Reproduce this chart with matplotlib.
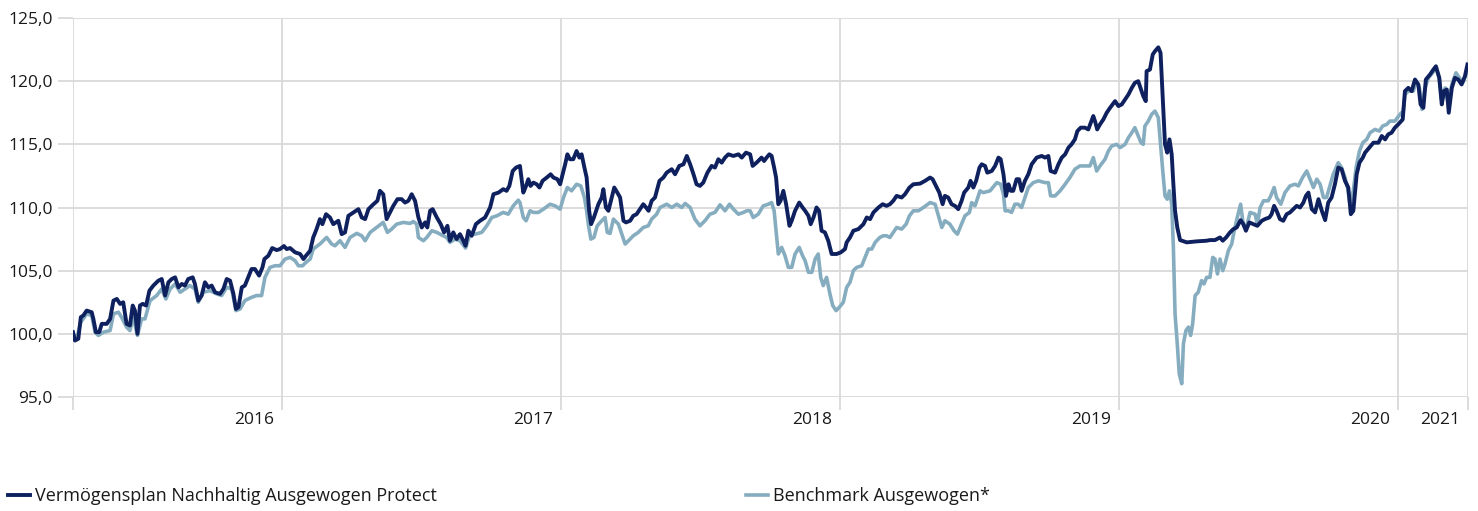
import matplotlib
matplotlib.use("Agg")
import matplotlib.pyplot as plt
from matplotlib.ticker import FixedLocator, FuncFormatter

plt.rcParams['font.family'] = ['Open Sans', 'DejaVu Sans']

# ---- data (decimal years, index values) ----
fund_t = [
    2016.250, 2016.257, 2016.269, 2016.278, 2016.287, 2016.299, 2016.317, 2016.323, 2016.332, 2016.344,
    2016.353, 2016.371, 2016.383, 2016.395, 2016.407, 2016.419, 2016.430, 2016.442, 2016.454, 2016.464,
    2016.472, 2016.481, 2016.490, 2016.500, 2016.512, 2016.524, 2016.538, 2016.556, 2016.568, 2016.580,
    2016.592, 2016.604, 2016.616, 2016.628, 2016.640, 2016.651, 2016.663, 2016.679, 2016.687, 2016.699,
    2016.711, 2016.723, 2016.735, 2016.747, 2016.759, 2016.777, 2016.789, 2016.801, 2016.813, 2016.825,
    2016.834, 2016.843, 2016.855, 2016.866, 2016.878, 2016.890, 2016.902, 2016.917, 2016.929, 2016.936,
    2016.950, 2016.964, 2016.980, 2016.992, 2017.006, 2017.016,
    2017.028, 2017.046, 2017.064, 2017.076, 2017.085, 2017.100, 2017.111, 2017.123, 2017.135, 2017.144,
    2017.157, 2017.171, 2017.183, 2017.201, 2017.213, 2017.225, 2017.237, 2017.255, 2017.273, 2017.285,
    2017.297, 2017.309, 2017.327, 2017.341, 2017.350, 2017.362, 2017.374, 2017.386, 2017.398, 2017.413,
    2017.428, 2017.440, 2017.452, 2017.464, 2017.476, 2017.488, 2017.500, 2017.512, 2017.520, 2017.530,
    2017.539, 2017.554, 2017.568, 2017.580, 2017.592, 2017.601, 2017.613, 2017.625, 2017.637, 2017.649,
    2017.657, 2017.667, 2017.679, 2017.694, 2017.709, 2017.727, 2017.745, 2017.757, 2017.775, 2017.792,
    2017.804, 2017.814, 2017.826, 2017.838, 2017.852,
    2017.864, 2017.874, 2017.882, 2017.890, 2017.900, 2017.912, 2017.922, 2017.933, 2017.948, 2017.962,
    2017.972, 2017.986, 2017.996, 2018.005, 2018.014, 2018.022, 2018.031, 2018.043, 2018.055, 2018.065,
    2018.073, 2018.083, 2018.091, 2018.100, 2018.107, 2018.117, 2018.133, 2018.145, 2018.151, 2018.160,
    2018.169, 2018.181, 2018.190, 2018.201, 2018.211, 2018.223, 2018.232, 2018.247, 2018.258, 2018.270,
    2018.282, 2018.294, 2018.304, 2018.313, 2018.324, 2018.336, 2018.352, 2018.366, 2018.378, 2018.396,
    2018.408, 2018.423, 2018.438, 2018.450, 2018.462, 2018.474, 2018.485, 2018.497, 2018.509, 2018.524,
    2018.539, 2018.551, 2018.563, 2018.575, 2018.587, 2018.599, 2018.617, 2018.635, 2018.647, 2018.662,
    2018.677, 2018.686, 2018.700, 2018.718, 2018.727, 2018.736, 2018.746, 2018.754, 2018.763, 2018.770,
    2018.778, 2018.786, 2018.796, 2018.806, 2018.818, 2018.826, 2018.838, 2018.853, 2018.865, 2018.874,
    2018.886, 2018.894, 2018.904, 2018.915, 2018.924, 2018.933, 2018.945, 2018.957, 2018.969, 2018.987,
    2019.002, 2019.017, 2019.023, 2019.035, 2019.047, 2019.065, 2019.083, 2019.095, 2019.107, 2019.119,
    2019.137, 2019.152, 2019.166, 2019.178, 2019.190, 2019.202, 2019.220, 2019.232, 2019.248, 2019.262,
    2019.286, 2019.304, 2019.322, 2019.331, 2019.343, 2019.355, 2019.367, 2019.375, 2019.387, 2019.399,
    2019.411, 2019.423, 2019.435, 2019.444, 2019.459, 2019.467, 2019.477, 2019.487, 2019.499,
    2019.507, 2019.519, 2019.527, 2019.543, 2019.555, 2019.567, 2019.575, 2019.585, 2019.594, 2019.603,
    2019.611, 2019.620, 2019.632, 2019.641, 2019.650, 2019.662, 2019.674, 2019.686, 2019.704, 2019.722,
    2019.734, 2019.746, 2019.754, 2019.770, 2019.782, 2019.794, 2019.806, 2019.818, 2019.829, 2019.841,
    2019.850, 2019.862, 2019.877, 2019.889, 2019.898, 2019.907, 2019.913, 2019.921, 2019.931, 2019.943,
    2019.955, 2019.967, 2019.985, 2019.997, 2020.009, 2020.021, 2020.033, 2020.045, 2020.056, 2020.068,
    2020.078, 2020.086, 2020.095, 2020.098, 2020.110, 2020.120, 2020.128, 2020.140, 2020.148, 2020.156,
    2020.164, 2020.172, 2020.180, 2020.188, 2020.194, 2020.200, 2020.208, 2020.218, 2020.242, 2020.278,
    2020.313,
    2020.325, 2020.343, 2020.361, 2020.371, 2020.383, 2020.397, 2020.409, 2020.421, 2020.435, 2020.445,
    2020.454, 2020.466, 2020.481, 2020.495, 2020.511, 2020.522, 2020.538, 2020.546, 2020.555, 2020.564,
    2020.576, 2020.588, 2020.600, 2020.612, 2020.624, 2020.636, 2020.648, 2020.660, 2020.669, 2020.678,
    2020.690, 2020.702, 2020.714, 2020.726, 2020.738, 2020.749, 2020.761, 2020.773, 2020.785, 2020.797,
    2020.809, 2020.821, 2020.830, 2020.839, 2020.851, 2020.861, 2020.873, 2020.881, 2020.896, 2020.911,
    2020.929, 2020.941, 2020.953, 2020.964, 2020.976, 2020.988, 2021.000, 2021.016, 2021.024, 2021.036,
    2021.048, 2021.060, 2021.072, 2021.080, 2021.090, 2021.099, 2021.114, 2021.126, 2021.135, 2021.147,
    2021.156, 2021.164, 2021.174, 2021.181, 2021.192, 2021.203, 2021.215, 2021.227, 2021.239, 2021.248,
]
fund_v = [
    100.13, 99.47, 99.61, 101.32, 101.45, 101.84, 101.71, 101.18, 100.13, 100.13,
    100.79, 100.79, 101.18, 102.63, 102.76, 102.37, 102.50, 100.79, 100.66, 102.24,
    101.84, 100.00, 102.24, 102.37, 102.24, 103.42, 103.82, 104.21, 104.34, 103.03,
    104.08, 104.34, 104.47, 103.68, 103.95, 103.82, 104.34, 104.47, 103.95, 102.63,
    103.03, 104.08, 103.68, 103.82, 103.29, 103.16, 103.55, 104.34, 104.21, 103.16,
    101.97, 102.11, 103.68, 103.82, 104.47, 105.13, 105.13, 104.61, 105.26, 105.92,
    106.18, 106.79, 106.63, 106.71, 106.95, 106.71,
    106.79, 106.45, 106.32, 105.92, 106.18, 106.58, 107.63, 108.29, 109.08, 108.68,
    109.47, 109.21, 108.68, 108.95, 107.89, 108.03, 109.34, 109.61, 109.87, 109.21,
    109.08, 109.87, 110.26, 110.53, 111.32, 111.05, 109.08, 109.61, 110.13, 110.66,
    110.66, 110.39, 110.53, 111.05, 110.53, 109.21, 108.42, 108.82, 108.42, 109.74,
    109.87, 109.21, 108.68, 108.03, 108.55, 107.37, 108.03, 107.50, 107.89, 107.37,
    106.97, 108.16, 107.76, 108.68, 108.95, 109.21, 110.00, 111.05, 111.18, 111.45,
    111.32, 111.71, 112.89, 113.16, 113.29,
    111.18, 111.71, 112.24, 111.71, 111.97, 111.84, 111.58, 112.11, 112.37, 112.63,
    112.37, 112.24, 111.84, 112.63, 113.42, 114.21, 113.82, 113.82, 114.47, 113.95,
    114.21, 113.16, 112.37, 109.74, 108.68, 109.21, 110.26, 110.79, 111.45, 110.00,
    109.74, 110.79, 111.58, 111.18, 110.79, 108.95, 108.82, 108.95, 109.34, 109.47,
    109.87, 110.26, 110.00, 109.74, 110.53, 110.79, 112.11, 112.37, 112.76, 113.03,
    112.63, 113.29, 113.42, 114.08, 113.42, 112.63, 111.84, 111.71, 111.97, 112.76,
    113.29, 113.16, 113.82, 113.55, 113.95, 114.21, 114.08, 114.21, 113.95, 114.34,
    114.21, 113.29, 113.55, 113.95, 113.68, 113.95, 114.21, 114.08, 113.16, 112.37,
    110.26, 110.53, 111.32, 110.26, 108.55, 108.95, 109.74, 110.39, 110.00, 109.74,
    109.34, 108.68, 109.21, 110.00, 109.74, 108.16, 108.03, 107.37, 106.32, 106.32,
    106.45, 106.71, 107.24, 107.63, 108.16, 108.29, 108.68, 109.21, 109.08, 109.61,
    110.00, 110.26, 110.13, 110.26, 110.53, 110.92, 110.79, 111.05, 111.58, 111.84,
    111.89, 112.11, 112.37, 112.24, 111.71, 111.18, 110.26, 110.92, 110.79, 110.26,
    110.13, 109.87, 110.53, 111.18, 111.58, 112.11, 111.58, 112.11, 113.16,
    113.42, 113.29, 112.76, 112.89, 113.29, 113.95, 113.82, 112.63, 110.92, 111.84,
    111.32, 111.32, 112.24, 112.24, 111.32, 112.11, 112.63, 113.42, 113.95, 114.08,
    113.95, 114.08, 112.89, 112.76, 113.42, 113.95, 114.21, 114.74, 115.00, 115.39,
    116.05, 116.32, 116.32, 116.18, 116.71, 117.24, 116.84, 116.18, 116.58, 116.97,
    117.50, 117.89, 118.42, 118.03, 118.16, 118.55, 118.95, 119.47, 119.87, 120.00,
    119.34, 118.82, 118.42, 120.79, 120.92, 122.11, 122.37, 122.68, 122.24, 118.68,
    115.00, 114.34, 115.39, 114.21, 111.84, 109.74, 108.42, 107.42, 107.24, 107.32,
    107.37,
    107.42, 107.42, 107.63, 107.37, 107.63, 108.03, 108.29, 108.42, 109.00, 108.68,
    108.16, 108.82, 108.68, 108.55, 108.95, 109.08, 109.21, 109.47, 110.13, 109.74,
    109.08, 108.95, 109.47, 109.61, 109.87, 110.13, 110.00, 110.39, 110.92, 111.18,
    109.87, 109.61, 110.66, 109.74, 109.00, 110.39, 110.79, 111.84, 113.16, 113.03,
    112.11, 111.58, 109.47, 109.74, 112.63, 113.55, 113.95, 114.34, 114.74, 115.13,
    115.13, 115.66, 115.39, 115.79, 115.92, 116.32, 116.58, 116.97, 119.21, 119.47,
    119.21, 120.13, 119.74, 118.16, 117.89, 120.13, 120.53, 120.92, 121.18, 120.26,
    118.16, 119.21, 119.34, 117.50, 119.47, 120.26, 120.13, 119.74, 120.39, 121.32,
]

bench_t = [
    2016.250, 2016.263, 2016.278, 2016.299, 2016.317, 2016.329, 2016.341, 2016.359, 2016.383, 2016.395,
    2016.413, 2016.424, 2016.442, 2016.454, 2016.466, 2016.481, 2016.496, 2016.508, 2016.526, 2016.550,
    2016.568, 2016.583, 2016.598, 2016.616, 2016.634, 2016.651, 2016.669, 2016.687, 2016.699, 2016.717,
    2016.741, 2016.765, 2016.783, 2016.801, 2016.819, 2016.834, 2016.849, 2016.866, 2016.890, 2016.908,
    2016.926, 2016.938, 2016.956, 2016.974, 2016.992, 2017.010,
    2017.028, 2017.046, 2017.058, 2017.073, 2017.085, 2017.100, 2017.111, 2017.135, 2017.159, 2017.177,
    2017.189, 2017.207, 2017.225, 2017.243, 2017.267, 2017.285, 2017.297, 2017.315, 2017.338, 2017.362,
    2017.377, 2017.392, 2017.410, 2017.434, 2017.458, 2017.470, 2017.482, 2017.488, 2017.506, 2017.518,
    2017.536, 2017.554, 2017.577, 2017.589, 2017.601, 2017.619, 2017.637, 2017.657, 2017.673, 2017.691,
    2017.715, 2017.733, 2017.751, 2017.769, 2017.792, 2017.810, 2017.828, 2017.846,
    2017.852, 2017.864, 2017.874, 2017.888, 2017.900, 2017.918, 2017.936, 2017.960, 2017.978, 2017.996,
    2018.008, 2018.022, 2018.037, 2018.055, 2018.070, 2018.083, 2018.091, 2018.097, 2018.106, 2018.117,
    2018.129, 2018.145, 2018.157, 2018.165, 2018.175, 2018.187, 2018.205, 2018.217, 2018.229, 2018.241,
    2018.258, 2018.276, 2018.294, 2018.312, 2018.324, 2018.342, 2018.354, 2018.378, 2018.396, 2018.414,
    2018.432, 2018.444, 2018.462, 2018.479, 2018.497, 2018.515, 2018.533, 2018.551, 2018.569, 2018.587,
    2018.603, 2018.617, 2018.635, 2018.653, 2018.665,
    2018.677, 2018.688, 2018.706, 2018.724, 2018.742, 2018.754, 2018.763, 2018.770, 2018.778, 2018.790,
    2018.802, 2018.814, 2018.826, 2018.838, 2018.853, 2018.865, 2018.874, 2018.886, 2018.898, 2018.910,
    2018.921, 2018.930, 2018.939, 2018.951, 2018.963, 2018.973, 2018.985, 2018.997, 2019.011, 2019.023,
    2019.035, 2019.047, 2019.059, 2019.077, 2019.089, 2019.101, 2019.113, 2019.125, 2019.142, 2019.154,
    2019.166, 2019.178, 2019.190, 2019.202, 2019.220, 2019.236, 2019.248, 2019.262, 2019.280, 2019.298,
    2019.322, 2019.340, 2019.352, 2019.364, 2019.375, 2019.393, 2019.408, 2019.420, 2019.432, 2019.447,
    2019.463, 2019.471, 2019.483, 2019.499,
    2019.501, 2019.513, 2019.537, 2019.561, 2019.575, 2019.585, 2019.591, 2019.603, 2019.614, 2019.626,
    2019.638, 2019.650, 2019.662, 2019.674, 2019.692, 2019.710, 2019.734, 2019.746, 2019.754, 2019.770,
    2019.788, 2019.806, 2019.823, 2019.841, 2019.859, 2019.883, 2019.895, 2019.907, 2019.919, 2019.931,
    2019.949, 2019.961, 2019.973, 2019.991, 2020.003, 2020.021, 2020.033, 2020.045, 2020.056, 2020.068,
    2020.078, 2020.086, 2020.092, 2020.104, 2020.116, 2020.128, 2020.140, 2020.148, 2020.156, 2020.164,
    2020.172, 2020.180, 2020.188, 2020.194, 2020.200, 2020.208, 2020.215, 2020.224, 2020.230, 2020.239,
    2020.248, 2020.256, 2020.263, 2020.272, 2020.283, 2020.295, 2020.304, 2020.313,
    2020.325, 2020.335, 2020.343, 2020.352, 2020.361, 2020.371, 2020.379, 2020.391, 2020.403, 2020.411,
    2020.423, 2020.435, 2020.445, 2020.457, 2020.469, 2020.487, 2020.495, 2020.505, 2020.517, 2020.534,
    2020.543, 2020.555, 2020.564, 2020.579, 2020.594, 2020.612, 2020.630, 2020.642, 2020.657, 2020.672,
    2020.684, 2020.696, 2020.708, 2020.720, 2020.732, 2020.743, 2020.755, 2020.767, 2020.785, 2020.797,
    2020.809, 2020.818, 2020.827, 2020.839, 2020.849, 2020.861, 2020.873, 2020.887, 2020.899, 2020.917,
    2020.932, 2020.944, 2020.959, 2020.970, 2020.988, 2021.006, 2021.018, 2021.024, 2021.036, 2021.054,
    2021.064, 2021.076, 2021.085, 2021.096, 2021.108, 2021.123, 2021.135, 2021.147, 2021.156, 2021.168,
    2021.180, 2021.192, 2021.207, 2021.219, 2021.231, 2021.243, 2021.248,
]
bench_v = [
    100.00, 99.61, 100.92, 101.58, 101.45, 100.13, 99.87, 100.13, 100.26, 101.58,
    101.71, 101.32, 100.53, 100.26, 101.32, 99.87, 101.18, 101.18, 102.63, 103.03,
    103.55, 102.76, 103.55, 103.95, 103.29, 103.55, 103.82, 103.55, 102.50, 103.29,
    103.42, 103.16, 103.03, 103.68, 103.55, 101.84, 101.97, 102.63, 102.89, 103.03,
    103.03, 104.47, 105.26, 105.39, 105.39, 105.92,
    106.05, 105.79, 105.39, 105.39, 105.66, 105.92, 106.71, 107.11, 107.63, 107.11,
    106.97, 107.37, 106.84, 107.63, 107.95, 107.76, 107.37, 108.03, 108.42, 108.82,
    108.03, 108.29, 108.68, 108.82, 108.74, 108.89, 108.68, 107.63, 107.37, 107.63,
    108.16, 108.03, 107.76, 107.63, 107.24, 107.50, 107.37, 106.79, 107.89, 107.89,
    108.03, 108.55, 109.21, 109.34, 109.61, 109.47, 110.13, 110.58,
    110.39, 109.21, 108.95, 109.74, 109.61, 109.61, 109.87, 110.26, 110.13, 109.87,
    110.79, 111.58, 111.32, 111.84, 111.71, 110.79, 109.74, 108.68, 107.50, 107.63,
    108.55, 108.95, 109.21, 108.03, 107.95, 109.08, 108.68, 107.89, 107.11, 107.37,
    107.76, 108.03, 108.42, 108.55, 109.08, 109.47, 110.00, 110.26, 110.00, 110.26,
    110.00, 110.32, 110.00, 109.08, 108.55, 108.95, 109.47, 109.61, 110.21, 109.74,
    110.26, 109.87, 109.47, 109.61, 109.74,
    109.74, 109.21, 109.47, 110.13, 110.26, 110.39, 109.74, 108.16, 106.32, 106.84,
    106.18, 105.26, 105.26, 106.32, 106.84, 106.18, 105.79, 104.87, 104.87, 105.92,
    106.32, 104.47, 103.82, 104.47, 103.16, 102.24, 101.84, 102.11, 102.50, 103.68,
    104.08, 105.00, 105.26, 105.39, 106.05, 106.71, 106.71, 107.24, 107.63, 107.76,
    107.76, 107.63, 108.03, 108.42, 108.29, 108.68, 109.34, 109.74, 109.74, 110.00,
    110.39, 110.26, 109.34, 108.42, 108.95, 108.68, 108.16, 107.89, 108.55, 109.34,
    109.61, 110.39, 110.13, 111.18,
    111.32, 111.18, 111.32, 111.97, 111.84, 111.05, 109.74, 109.74, 109.61, 110.26,
    110.26, 110.00, 110.79, 111.58, 111.97, 112.11, 111.97, 111.97, 110.92, 110.92,
    111.32, 111.84, 112.37, 113.03, 113.29, 113.29, 113.29, 113.95, 112.89, 113.29,
    113.82, 114.47, 114.87, 115.00, 114.74, 115.00, 115.53, 115.92, 116.32, 115.66,
    115.13, 115.00, 116.45, 116.84, 117.37, 117.63, 117.11, 115.00, 112.89, 110.92,
    110.66, 111.32, 110.26, 106.84, 101.58, 99.21, 96.84, 96.05, 99.21, 100.26,
    100.53, 99.87, 100.79, 103.03, 103.29, 104.21, 103.95, 104.47,
    104.47, 106.05, 105.92, 104.74, 105.92, 105.00, 105.53, 106.58, 107.11, 108.03,
    109.21, 110.26, 108.55, 108.55, 109.61, 109.47, 108.68, 110.00, 110.53, 110.53,
    110.92, 111.58, 110.79, 110.26, 111.18, 111.71, 111.84, 111.71, 112.37, 112.89,
    112.24, 111.58, 112.24, 111.84, 110.79, 110.79, 111.71, 112.63, 113.55, 113.16,
    112.37, 111.58, 110.26, 111.32, 113.16, 114.47, 115.13, 115.39, 115.92, 116.18,
    116.05, 116.45, 116.58, 116.84, 116.84, 117.37, 117.63, 118.95, 119.21, 119.21,
    120.00, 119.47, 117.76, 119.47, 120.26, 120.66, 121.05, 120.26, 118.42, 119.47,
    118.16, 119.74, 120.66, 120.26, 119.87, 120.53, 120.92,
]

series_names = ["Vermögensplan Nachhaltig Ausgewogen Protect", "Benchmark Ausgewogen*"]
y_ticks = [95, 100, 105, 110, 115, 120, 125]
year_bounds = [2016.25, 2017, 2018, 2019, 2020, 2021, 2021.25]
year_labels = ["2016", "2017", "2018", "2019", "2020", "2021"]
year_label_pos = [2017, 2018, 2019, 2020, 2021, 2021.25]

FUND_C = "#0e215e"
BENCH_C = "#86adbf"
GRID_C = "#d9d9d9"
TEXT_C = "#1a1a1a"
FS_TICK = 12.5
FS_LEG = 13

fig = plt.figure(figsize=(14.78, 5.11), dpi=100)
ax = fig.add_axes([73 / 1478, 1 - 397 / 511, (1468 - 73) / 1478, (397 - 18) / 511])

h_bench, = ax.plot(bench_t, bench_v, color=BENCH_C, lw=2.6, solid_joinstyle='round', zorder=3)
h_fund, = ax.plot(fund_t, fund_v, color=FUND_C, lw=2.8, solid_joinstyle='round', zorder=4)

ax.set_xlim(year_bounds[0], year_bounds[-1])
ax.set_ylim(y_ticks[0], y_ticks[-1])

ax.yaxis.set_major_locator(FixedLocator(y_ticks))
ax.yaxis.set_major_formatter(FuncFormatter(lambda v, p: f"{v:.1f}".replace(".", ",")))
ax.xaxis.set_major_locator(FixedLocator(year_bounds))
ax.xaxis.set_major_formatter(FuncFormatter(lambda v, p: ""))

for s in ax.spines.values():
    s.set_visible(False)
ax.grid(True, color=GRID_C, lw=1.3, zorder=0)
ax.set_axisbelow(True)
ax.tick_params(axis='y', length=11, width=1.3, color=GRID_C, pad=3.5, labelsize=FS_TICK, labelcolor=TEXT_C)
ax.tick_params(axis='x', length=9.5, width=1.3, color=GRID_C)

for lab, pos in zip(year_labels, year_label_pos):
    ax.annotate(lab, xy=(pos, 0), xycoords=('data', 'axes fraction'),
                xytext=(-8, -23), textcoords='offset pixels',
                ha='right', va='center', fontsize=FS_TICK, color=TEXT_C)

for h, name, x0 in ((h_fund, series_names[0], 8), (h_bench, series_names[1], 746)):
    lg = fig.legend([h], [name], loc='center left', bbox_to_anchor=(x0 / 1478, 1 - 496 / 511),
                    frameon=False, fontsize=FS_LEG, handlelength=1.2, handletextpad=0.3,
                    borderpad=0, borderaxespad=0)
    for t in lg.get_texts():
        t.set_color(TEXT_C)

fig.savefig("out.png", dpi=100)
